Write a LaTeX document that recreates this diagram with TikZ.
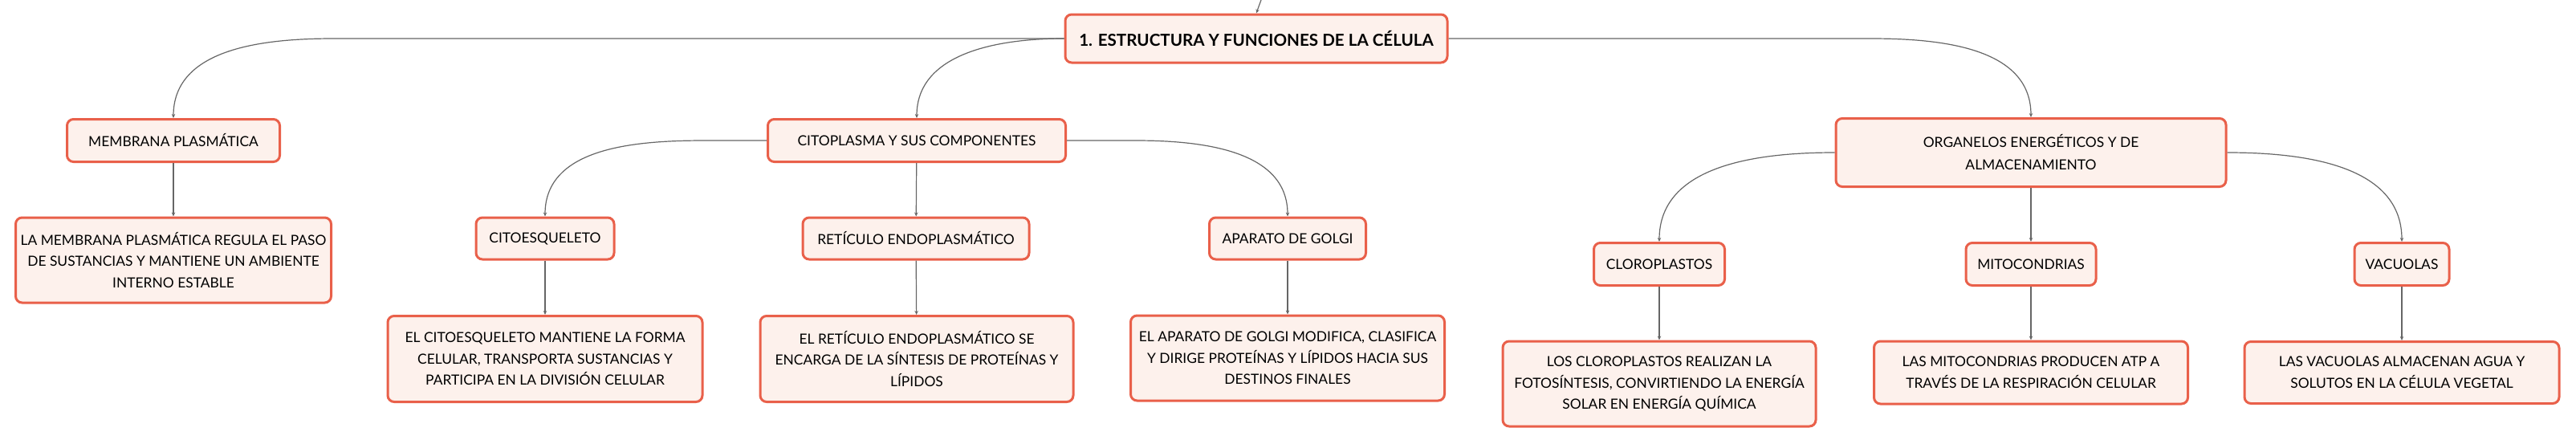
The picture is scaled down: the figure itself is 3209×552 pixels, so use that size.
\documentclass[tikz,border=0pt]{standalone}
\usepackage{fontspec}
\setmainfont{Lato}
\usetikzlibrary{arrows.meta,calc}

\definecolor{boxline}{HTML}{E9604A}
\definecolor{boxfill}{HTML}{FDF1EC}
\definecolor{linkgray}{HTML}{666666}

\tikzset{
  box/.style={draw=boxline, fill=boxfill, line width=1.5pt, rounded corners=4pt,
    align=center, inner sep=1pt, font=\fontsize{8.7}{13.3}\selectfont},
  link/.style={draw=linkgray, line width=0.6pt, -{Stealth[length=2.5pt,width=2.2pt]}},
}

\begin{document}
\begin{tikzpicture}[x=0.5pt,y=-0.5pt]
\useasboundingbox (0,0) rectangle (3209,552);

% Main topic
\node[box, minimum width=238pt, minimum height=30pt, font=\bfseries\fontsize{10.3}{13}\selectfont] (root) at (1565,48) {1. ESTRUCTURA Y FUNCIONES DE LA CÉLULA};
\coordinate (up) at (1571,0);
\draw[link] (up) -- (root.north);

% Level one
\node[box, minimum width=132.5pt, minimum height=26.5pt] (memb) at (216,175) {MEMBRANA PLASMÁTICA};
\node[box, minimum width=185.5pt, minimum height=26.5pt] (cito) at (1142,175) {CITOPLASMA Y SUS COMPONENTES};
\node[box, minimum width=243pt, minimum height=42.5pt, font=\fontsize{8.7}{14}\selectfont] (orga) at (2530,190) {ORGANELOS ENERGÉTICOS Y DE\\ALMACENAMIENTO};

\draw[link] (root.west) -- ($(memb.north |- root.west)+(200,0)$) to[out=180,in=90] (memb.north);
\draw[link] (root.west) to[out=180,in=90] (cito.north);
\draw[link] (root.east) -- ($(orga.north |- root.east)+(-200,0)$) to[out=0,in=90] (orga.north);

% Membrana
\node[box, minimum width=196.5pt, minimum height=53pt] (membtxt) at (216,324) {LA MEMBRANA PLASMÁTICA REGULA EL PASO\\DE SUSTANCIAS Y MANTIENE UN AMBIENTE\\INTERNO ESTABLE};
\draw[link] (memb) -- (membtxt);

% Citoplasma
\node[box, minimum width=86pt, minimum height=26pt] (cytosk) at (679,297) {CITOESQUELETO};
\node[box, minimum width=141pt, minimum height=26pt] (reti) at (1141,297) {RETÍCULO ENDOPLASMÁTICO};
\node[box, minimum width=97.5pt, minimum height=26pt] (golgi) at (1604,297) {APARATO DE GOLGI};

\draw[link] (cito.west) -- ($(cytosk.north |- cito.west)+(200,0)$) to[out=180,in=90] (cytosk.north);
\draw[link] (cito) -- (reti);
\draw[link] (cito.east) -- ($(golgi.north |- cito.east)+(-190,0)$) to[out=0,in=90] (golgi.north);

\node[box, minimum width=196pt, minimum height=53.5pt] (cytosktxt) at (679,447) {EL CITOESQUELETO MANTIENE LA FORMA\\CELULAR, TRANSPORTA SUSTANCIAS Y\\PARTICIPA EN LA DIVISIÓN CELULAR};
\node[box, minimum width=195pt, minimum height=53.5pt] (retitxt) at (1142,447) {EL RETÍCULO ENDOPLASMÁTICO SE\\ENCARGA DE LA SÍNTESIS DE PROTEÍNAS Y\\LÍPIDOS};
\node[box, minimum width=195.5pt, minimum height=53pt] (golgitxt) at (1604,446) {EL APARATO DE GOLGI MODIFICA, CLASIFICA\\Y DIRIGE PROTEÍNAS Y LÍPIDOS HACIA SUS\\DESTINOS FINALES};
\draw[link] (cytosk) -- (cytosktxt);
\draw[link] (reti) -- (retitxt);
\draw[link] (golgi) -- (golgitxt);

% Organelos
\node[box, minimum width=81.5pt, minimum height=26.5pt] (cloro) at (2067,329) {CLOROPLASTOS};
\node[box, minimum width=81pt, minimum height=26.5pt] (mito) at (2530,329) {MITOCONDRIAS};
\node[box, minimum width=59pt, minimum height=26.5pt] (vacu) at (2992,329) {VACUOLAS};

\draw[link] (orga.west) to[out=180,in=90] (cloro.north);
\draw[link] (orga) -- (mito);
\draw[link] (orga.east) to[out=0,in=90] (vacu.north);

\node[box, minimum width=195pt, minimum height=53pt] (clorotxt) at (2067,478) {LOS CLOROPLASTOS REALIZAN LA\\FOTOSÍNTESIS, CONVIRTIENDO LA ENERGÍA\\SOLAR EN ENERGÍA QUÍMICA};
\node[box, minimum width=195.5pt, minimum height=39pt] (mitotxt) at (2530,464) {LAS MITOCONDRIAS PRODUCEN ATP A\\TRAVÉS DE LA RESPIRACIÓN CELULAR};
\node[box, minimum width=196pt, minimum height=38.5pt] (vacutxt) at (2992,464) {LAS VACUOLAS ALMACENAN AGUA Y\\SOLUTOS EN LA CÉLULA VEGETAL};
\draw[link] (cloro) -- (clorotxt);
\draw[link] (mito) -- (mitotxt);
\draw[link] (vacu) -- (vacutxt);
\end{tikzpicture}
\end{document}
